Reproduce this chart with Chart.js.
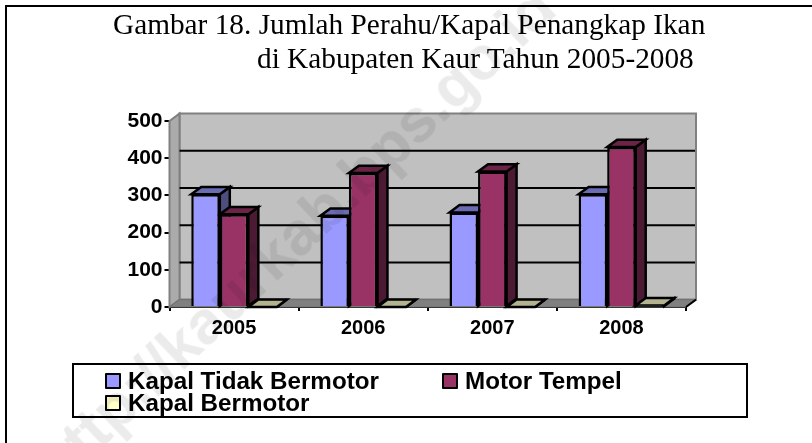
<!DOCTYPE html>
<html>
<head>
<meta charset="utf-8">
<style>
  html, body { margin: 0; padding: 0; background: #fff; overflow: hidden; }
  #page { position: relative; width: 812px; height: 443px; overflow: hidden; }
  #chart { position: absolute; left: 0; top: 0; }
  #frame { position: absolute; left: 5px; top: 5px; width: 820px; height: 450px; border: 2px solid #000; }
  .title { position: absolute; font: 29.3px "Liberation Serif", serif; color: #000; white-space: pre; }
  #legend { position: absolute; left: 72px; top: 363px; width: 672px; height: 51px; border: 2px solid #000; }
  .item { position: absolute; font: bold 24.2px/20px "Liberation Sans", sans-serif; color: #000; white-space: pre; }
  .swatch { position: absolute; width: 12px; height: 12px; border: 2px solid #000; border-radius: 1px; }
  #mark { position: absolute; left: 44px; top: 439px; font: bold 61px "Liberation Sans", sans-serif; color: #ebebeb;
          transform: rotate(-43.6deg); transform-origin: left center; mix-blend-mode: multiply; white-space: pre; }
</style>
</head>
<body>
<div id="page">
  <canvas id="chart" width="812" height="443"></canvas>
  <div id="frame"></div>
  <div class="title" style="left:113px;top:8px">Gambar 18. Jumlah Perahu/Kapal Penangkap Ikan</div>
  <div class="title" style="left:257px;top:42px">di Kabupaten Kaur Tahun 2005-2008</div>
  <div id="legend"></div>
  <div id="mark">http://kaurkab.bps.go.id</div>
</div>
<script src="https://cdn.jsdelivr.net/npm/chart.js@4"></script>
<script>
/* ── Data ─────────────────────────────────────────────── */
const years = ['2005', '2006', '2007', '2008'];
const seriesNames = ['Kapal Tidak Bermotor', 'Motor Tempel', 'Kapal Bermotor'];
const tidakBermotor = [303, 245, 254, 303];
const motorTempel = [249, 360, 364, 430];
const bermotor = [0, 0, 0, 4];
const yTicks = [0, 100, 200, 300, 400, 500];

/* ── Colours ──────────────────────────────────────────── */
const fronts = ['#9999FF', '#993366', '#FFFFCC'];
const tops = ['#6B6BB3', '#6B2447', '#B3B38F'];
const sides = ['#4D4D80', '#4D1A33', '#80806B'];

// depth of the fake 3D box
const DX = 10, DY = -7.4;

function poly(ctx, pts, fill, stroke, width) {
    ctx.beginPath();
    pts.forEach((p, i) => i ? ctx.lineTo(p[0], p[1]) : ctx.moveTo(p[0], p[1]));
    ctx.closePath();
    if (fill) { ctx.fillStyle = fill; ctx.fill(); }
    if (stroke) { ctx.strokeStyle = stroke; ctx.lineWidth = width; ctx.stroke(); }
}

const box3d = {
    id: 'box3d',
    beforeDatasetsDraw(chart) {
        const { ctx, scales: { x, y } } = chart;
        const l = x.left, r = x.right, b = y.getPixelForValue(0), t = y.getPixelForValue(500);

        ctx.save();
        // back wall
        poly(ctx, [[l + DX, t + DY], [r + DX, t + DY], [r + DX, b + DY], [l + DX, b + DY]], '#C0C0C0', '#808080', 2);
        // side wall
        poly(ctx, [[l, t], [l + DX, t + DY], [l + DX, b + DY], [l, b]], '#ABABAB', '#808080', 2);
        // floor
        poly(ctx, [[l, b], [l + DX, b + DY], [r + DX, b + DY], [r, b]], '#808080', '#707070', 1);
        // grid lines on the back wall
        ctx.strokeStyle = '#000';
        ctx.lineWidth = 2;
        yTicks.slice(1, -1).forEach(v => {
            const py = y.getPixelForValue(v) + DY;
            ctx.beginPath();
            ctx.moveTo(l + DX, py);
            ctx.lineTo(r + DX - 1, py);
            ctx.stroke();
        });
        // closing tick at the right end of the floor
        ctx.beginPath();
        ctx.moveTo(r, b);
        ctx.lineTo(r + DX, b + DY);
        ctx.stroke();

        // extruded tops and sides, fronts are drawn by Chart.js over them
        chart.data.datasets.forEach((ds, i) => {
            chart.getDatasetMeta(i).data.forEach(bar => {
                const x0 = bar.x - bar.width / 2, x1 = bar.x + bar.width / 2;
                const top = bar.y, base = bar.base;
                poly(ctx, [[x1, top], [x1 + DX, top + DY], [x1 + DX, base + DY], [x1, base]], sides[i], '#000', 2.5);
                poly(ctx, [[x0, top], [x0 + DX, top + DY], [x1 + DX, top + DY], [x1, top]], tops[i], '#000', 2.5);
            });
        });
        ctx.restore();
    }
};

/* ── Legend ───────────────────────────────────────────── */
const legendSpots = [[33, 6], [370, 6], [33, 28]];
const legend = document.getElementById('legend');
seriesNames.forEach((name, i) => {
    const [lx, ly] = legendSpots[i];
    const sw = document.createElement('div');
    sw.className = 'swatch';
    sw.style.cssText = `left:${lx - 2}px;top:${ly + 2}px;background:${fronts[i]}`;
    const tx = document.createElement('div');
    tx.className = 'item';
    tx.style.cssText = `left:${lx + 21}px;top:${ly}px`;
    tx.textContent = name;
    legend.append(sw, tx);
});

/* ── Chart.js ─────────────────────────────────────────── */
const axisFont = { family: '"Liberation Sans", sans-serif', size: 20, weight: 'bold' };

new Chart(document.getElementById('chart'), {
    type: 'bar',
    data: {
        labels: years,
        datasets: [tidakBermotor, motorTempel, bermotor].map((values, i) => ({
            label: seriesNames[i],
            data: values,
            backgroundColor: fronts[i],
            borderColor: '#000',
            borderWidth: 2.5,
            categoryPercentage: 0.663,
            barPercentage: 1,
        }))
    },
    options: {
        responsive: false,
        animation: false,
        layout: { padding: { top: 121, right: 126 } },
        plugins: { legend: { display: false }, tooltip: { enabled: false } },
        scales: {
            x: {
                afterFit: s => { s.height = 136; },
                grid: { drawOnChartArea: false, color: '#000', lineWidth: 2, tickLength: 4 },
                border: { color: '#000', width: 2 },
                ticks: { font: axisFont, color: '#000', padding: 5, maxRotation: 0 },
            },
            y: {
                min: 0,
                max: 500,
                afterFit: s => { s.width = 169.5; },
                afterBuildTicks: s => { s.ticks = yTicks.map(v => ({ value: v })); },
                grid: { drawOnChartArea: false, color: '#000', lineWidth: 2, tickLength: 5 },
                border: { color: '#000', width: 2 },
                ticks: { font: { ...axisFont, size: 21 }, color: '#000', padding: 2 },
            }
        }
    },
    plugins: [box3d]
});
</script>
</body>
</html>
